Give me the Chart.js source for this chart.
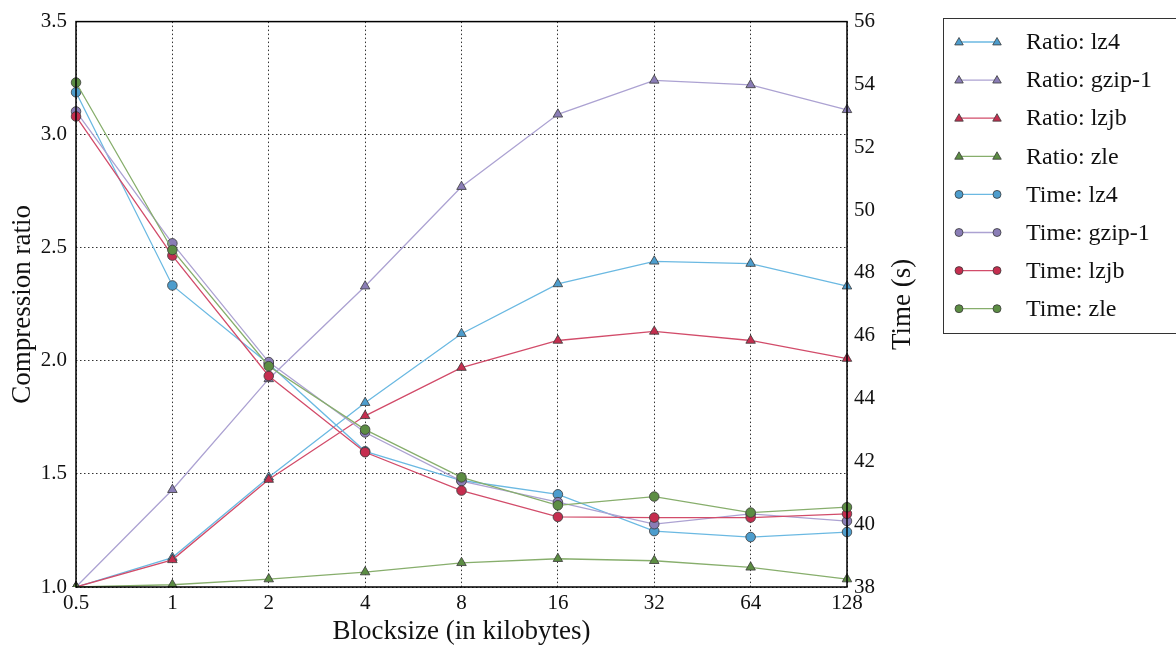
<!DOCTYPE html>
<html>
<head>
<meta charset="utf-8">
<script src="https://cdn.jsdelivr.net/npm/chart.js@4.4.1/dist/chart.umd.min.js"></script>
<style>
  html, body { margin: 0; padding: 0; background: #fff; }
  #wrap { width: 1176px; height: 648px; position: relative; }
</style>
</head>
<body>
<div id="wrap"><canvas id="chart"></canvas></div>
<script>
// blocksize sweep: compression ratio (left axis) and run time (right axis)
const blocksizes = ['0.5', '1', '2', '4', '8', '16', '32', '64', '128'];

const ratioLz4  = [1.00, 1.13, 1.485, 1.815, 2.12, 2.34, 2.44, 2.43, 2.33];
const ratioGzip = [1.00, 1.43, 1.92, 2.33, 2.77, 3.09, 3.24, 3.22, 3.11];
const ratioLzjb = [1.00, 1.12, 1.475, 1.757, 1.97, 2.09, 2.13, 2.09, 2.01];
const ratioZle  = [1.00, 1.01, 1.035, 1.066, 1.107, 1.125, 1.116, 1.087, 1.035];

const timeLz4  = [53.75, 47.60, 45.10, 42.32, 41.39, 40.95, 39.78, 39.59, 39.75];
const timeGzip = [53.14, 48.94, 45.16, 42.92, 41.37, 40.70, 40.00, 40.33, 40.10];
const timeLzjb = [52.98, 48.55, 44.72, 42.29, 41.07, 40.23, 40.21, 40.21, 40.33];
const timeZle  = [54.06, 48.73, 45.03, 43.01, 41.49, 40.60, 40.88, 40.37, 40.54];

const ratioTicks = [1.0, 1.5, 2.0, 2.5, 3.0, 3.5];
const timeTicks = [38, 40, 42, 44, 46, 48, 50, 52, 54, 56];

const fontFamily = "'Liberation Serif', 'DejaVu Serif', serif";

const palette = {
  lz4:  { line: '#6bb9e2', fill: '#4d9dcd' },
  gzip: { line: '#aca2d2', fill: '#8a7db6' },
  lzjb: { line: '#d24c6a', fill: '#c52e4f' },
  zle:  { line: '#87ae6c', fill: '#5c8d43' }
};

function series(label, data, col, marker, axis) {
  return {
    label,
    data,
    yAxisID: axis,
    borderColor: col.line,
    backgroundColor: col.fill,
    borderWidth: 1.3,
    pointStyle: marker,
    pointRadius: marker === 'triangle' ? 5.5 : 4.8,
    pointBorderColor: '#3a3a3a',
    pointBorderWidth: 0.8,
    pointBackgroundColor: col.fill,
    tension: 0,
    fill: false
  };
}

const datasets = [
  series('Ratio: lz4',    ratioLz4,  palette.lz4,  'triangle', 'y'),
  series('Ratio: gzip-1', ratioGzip, palette.gzip, 'triangle', 'y'),
  series('Ratio: lzjb',   ratioLzjb, palette.lzjb, 'triangle', 'y'),
  series('Ratio: zle',    ratioZle,  palette.zle,  'triangle', 'y'),
  series('Time: lz4',     timeLz4,   palette.lz4,  'circle',   'y1'),
  series('Time: gzip-1',  timeGzip,  palette.gzip, 'circle',   'y1'),
  series('Time: lzjb',    timeLzjb,  palette.lzjb, 'circle',   'y1'),
  series('Time: zle',     timeZle,   palette.zle,  'circle',   'y1')
];
// later series sit on top
datasets.forEach((d, i) => { d.order = datasets.length - 1 - i; });

// black box around the plot area + right axis title reading bottom-up
const frame = {
  id: 'frame',
  afterDatasetsDraw(chart) {
    const { ctx, chartArea: a } = chart;
    ctx.save();
    ctx.strokeStyle = '#000';
    ctx.lineWidth = 1.5;
    ctx.strokeRect(a.left, a.top, a.right - a.left, a.bottom - a.top);

    ctx.translate(a.right + 56, (a.top + a.bottom) / 2);
    ctx.rotate(-Math.PI / 2);
    ctx.fillStyle = '#111';
    ctx.font = '27px ' + fontFamily;
    ctx.textAlign = 'center';
    ctx.textBaseline = 'middle';
    ctx.fillText('Time (s)', 0, 0);
    ctx.restore();
  }
};

// boxed legend to the right, line with a marker at each end
const sideLegend = {
  id: 'sideLegend',
  afterDraw(chart) {
    const { ctx } = chart;
    const x0 = 943, y0 = 18, rowH = 38.1;
    ctx.save();
    ctx.fillStyle = '#fff';
    ctx.fillRect(x0, y0, 260, 315);
    ctx.strokeStyle = '#333';
    ctx.lineWidth = 1;
    ctx.strokeRect(x0 + 0.5, y0 + 0.5, 260, 315);

    chart.data.datasets.forEach((ds, i) => {
      const cy = 42 + i * rowH;
      const xa = 959, xb = 997;
      ctx.strokeStyle = ds.borderColor;
      ctx.lineWidth = 1.3;
      ctx.beginPath();
      ctx.moveTo(xa, cy);
      ctx.lineTo(xb, cy);
      ctx.stroke();

      ctx.fillStyle = ds.pointBackgroundColor;
      ctx.strokeStyle = '#3a3a3a';
      ctx.lineWidth = 0.8;
      [xa, xb].forEach(px => {
        ctx.beginPath();
        if (ds.pointStyle === 'triangle') {
          const r = 4.5;
          ctx.moveTo(px, cy - r);
          ctx.lineTo(px + r * 0.95, cy + r * 0.65);
          ctx.lineTo(px - r * 0.95, cy + r * 0.65);
          ctx.closePath();
        } else {
          ctx.arc(px, cy, 4, 0, Math.PI * 2);
        }
        ctx.fill();
        ctx.stroke();
      });

      ctx.fillStyle = '#111';
      ctx.font = '24px ' + fontFamily;
      ctx.textBaseline = 'middle';
      ctx.textAlign = 'left';
      ctx.fillText(ds.label, 1026, cy + 1);
    });
    ctx.restore();
  }
};

const gridDash = [1.5, 2.5];
const tickFont = { family: fontFamily, size: 21 };
const titleFont = { family: fontFamily, size: 27 };

new Chart(document.getElementById('chart'), {
  type: 'line',
  data: { labels: blocksizes, datasets },
  plugins: [frame, sideLegend],
  options: {
    responsive: true,
    maintainAspectRatio: false,
    animation: false,
    layout: { padding: { top: 19, left: 0, right: 266, bottom: 0 } },
    plugins: {
      legend: { display: false },
      tooltip: { enabled: false }
    },
    scales: {
      x: {
        type: 'category',
        offset: false,
        afterFit: s => { s.height = 61; },
        grid: { color: 'rgba(0,0,0,0.8)', lineWidth: 1, drawTicks: false },
        border: { display: false, dash: gridDash },
        ticks: { color: '#111', font: tickFont, padding: 4, maxRotation: 0, autoSkip: false },
        title: { display: true, text: 'Blocksize (in kilobytes)', color: '#111', font: titleFont, padding: { top: 0, bottom: 0 } }
      },
      y: {
        position: 'left',
        min: 1.0,
        max: 3.5,
        afterFit: s => { s.width = 76; },
        afterBuildTicks: s => { s.ticks = ratioTicks.map(v => ({ value: v })); },
        grid: { color: 'rgba(0,0,0,0.8)', lineWidth: 1, drawTicks: false },
        border: { display: false, dash: gridDash },
        ticks: { color: '#111', font: tickFont, padding: 9, callback: v => Number(v).toFixed(1) },
        title: { display: true, text: 'Compression ratio', color: '#111', font: titleFont, padding: { top: 7, bottom: 0 } }
      },
      y1: {
        position: 'right',
        min: 38,
        max: 56,
        afterFit: s => { s.width = 63; },
        afterBuildTicks: s => { s.ticks = timeTicks.map(v => ({ value: v })); },
        grid: { display: false, drawTicks: false },
        border: { display: false },
        ticks: { color: '#111', font: tickFont, padding: 7 }
      }
    }
  }
});
</script>
</body>
</html>
